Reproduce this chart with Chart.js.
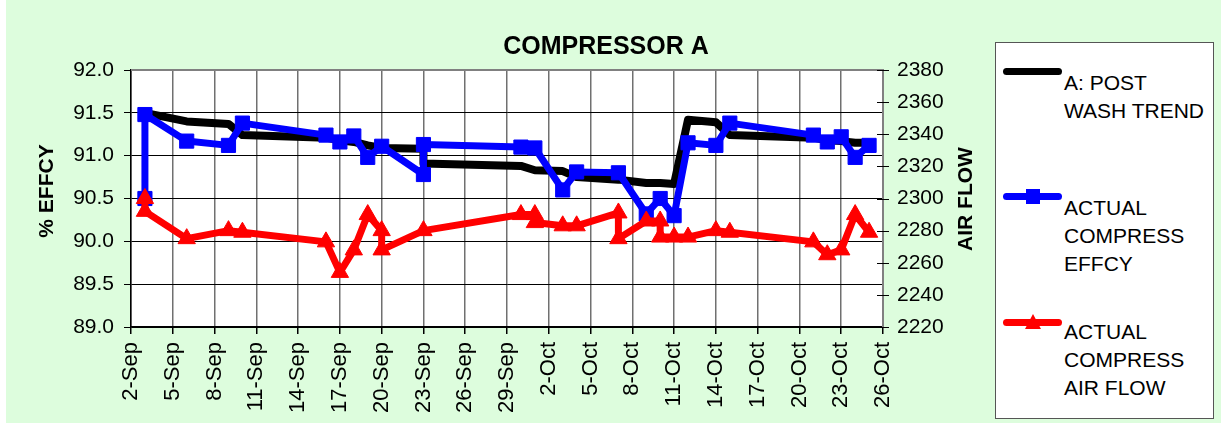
<!DOCTYPE html>
<html>
<head>
<meta charset="utf-8">
<script src="https://cdn.jsdelivr.net/npm/chart.js@4.4.0/dist/chart.umd.min.js"></script>
<style>
    html, body { margin: 0; padding: 0; background: #fff; }
    #wrap { position: relative; width: 1221px; height: 425px; }
    #legend {
        position: absolute; left: 995px; top: 42px; width: 219px; height: 377px;
        box-sizing: border-box; background: #fff; border: 1px solid #555;
        font-family: Arial, "Liberation Sans", sans-serif; font-size: 21px; line-height: 28px; color: #000;
    }
    .swatch { position: absolute; left: 7px; width: 59px; height: 7px; border-radius: 4px; }
    .lbl { position: absolute; left: 68px; white-space: nowrap; }
    .sq { position: absolute; left: 30px; width: 14px; height: 15px; background: #0000ff; }
    .tri { position: absolute; left: 29px; width: 0; height: 0;
           border-left: 8px solid transparent; border-right: 8px solid transparent; border-bottom: 15px solid #ff0000; }
</style>
</head>
<body>
<div id="wrap">
    <canvas id="chart" width="1221" height="425"></canvas>
    <div id="legend">
        <div class="swatch" style="top:25px;background:#000"></div>
        <div class="lbl" style="top:26px">A: POST<br>WASH TREND</div>

        <div class="swatch" style="top:150px;background:#0000ff"></div>
        <div class="sq" style="top:146px"></div>
        <div class="lbl" style="top:151px">ACTUAL<br>COMPRESS<br>EFFCY</div>

        <div class="swatch" style="top:276px;background:#ff0000"></div>
        <div class="tri" style="top:271px"></div>
        <div class="lbl" style="top:275px">ACTUAL<br>COMPRESS<br>AIR FLOW</div>
    </div>
</div>
<script>
// x axis tick labels (every 3 days from 2-Sep)
const tickLabels = ['2-Sep', '5-Sep', '8-Sep', '11-Sep', '14-Sep', '17-Sep', '20-Sep', '23-Sep', '26-Sep',
    '29-Sep', '2-Oct', '5-Oct', '8-Oct', '11-Oct', '14-Oct', '17-Oct', '20-Oct', '23-Oct', '26-Oct'];

// A: post wash trend (% effcy)
const trendDates = ['3-Sep', '6-Sep', '9-Sep', '10-Sep', '16-Sep', '17-Sep', '18-Sep', '19-Sep', '20-Sep', '23-Sep',
    '23-Sep', '30-Sep', '1-Oct', '3-Oct', '4-Oct', '7-Oct', '9-Oct', '10-Oct', '11-Oct', '12-Oct',
    '14-Oct', '15-Oct', '21-Oct', '22-Oct', '23-Oct', '24-Oct', '25-Oct'];
const trendValues = [91.50, 91.40, 91.37, 91.24, 91.21, 91.18, 91.16, 91.12, 91.09, 91.08,
    90.91, 90.88, 90.83, 90.82, 90.75, 90.72, 90.68, 90.68, 90.67, 91.42,
    91.39, 91.24, 91.21, 91.18, 91.17, 91.15, 91.15];

// actual compressor efficiency (% effcy)
const effDates = ['3-Sep', '3-Sep', '6-Sep', '9-Sep', '10-Sep', '16-Sep', '17-Sep', '18-Sep', '19-Sep', '20-Sep',
    '23-Sep', '23-Sep', '30-Sep', '1-Oct', '3-Oct', '4-Oct', '7-Oct', '9-Oct', '10-Oct', '11-Oct',
    '12-Oct', '14-Oct', '15-Oct', '21-Oct', '22-Oct', '23-Oct', '24-Oct', '25-Oct'];
const effValues = [90.50, 91.48, 91.17, 91.12, 91.38, 91.24, 91.16, 91.23, 90.98, 91.11,
    90.78, 91.13, 91.10, 91.09, 90.60, 90.81, 90.80, 90.32, 90.50, 90.30,
    91.15, 91.12, 91.38, 91.24, 91.16, 91.22, 90.98, 91.12];

// actual compressor air flow (right axis)
const flowDates = ['3-Sep', '3-Sep', '6-Sep', '9-Sep', '10-Sep', '16-Sep', '17-Sep', '18-Sep', '19-Sep', '20-Sep',
    '20-Sep', '23-Sep', '30-Sep', '1-Oct', '1-Oct', '3-Oct', '4-Oct', '7-Oct', '7-Oct', '9-Oct',
    '10-Oct', '10-Oct', '11-Oct', '12-Oct', '14-Oct', '15-Oct', '21-Oct', '22-Oct', '23-Oct', '24-Oct', '25-Oct'];
const flowValues = [2300, 2292, 2275, 2280, 2279, 2273, 2254, 2268, 2290, 2280,
    2268, 2280, 2290, 2290, 2285, 2283, 2283, 2291, 2275, 2286,
    2286, 2276, 2276, 2276, 2280, 2279, 2273, 2265, 2268, 2290, 2279];

const FONT = 'Arial, "Liberation Sans", sans-serif';

// days since 2-Sep
function dayNum(s) {
    const [d, m] = s.split('-');
    return m === 'Sep' ? +d - 2 : +d + 28;
}

function points(dates, values) {
    return dates.map((d, i) => ({ x: dayNum(d), y: values[i] }));
}

const decor = {
    id: 'decor',
    beforeDraw(chart) {
        const { ctx, chartArea: a } = chart;
        ctx.save();
        ctx.fillStyle = '#fff';
        ctx.fillRect(0, 0, chart.width, chart.height);
        ctx.fillStyle = '#DDFDDD';
        ctx.fillRect(6, 0, chart.width - 6, 423);
        ctx.fillStyle = '#fff';
        ctx.fillRect(a.left, a.top, a.right - a.left, a.bottom - a.top);
        ctx.restore();
    },
    afterDraw(chart) {
        const { ctx, chartArea: a } = chart;
        ctx.save();
        // top/right frame
        ctx.strokeStyle = '#808080';
        ctx.lineWidth = 2;
        ctx.beginPath();
        ctx.moveTo(a.left, a.top);
        ctx.lineTo(a.right, a.top);
        ctx.lineTo(a.right, a.bottom);
        ctx.stroke();
        // right axis tick marks (cross)
        const y2 = chart.scales.y2;
        ctx.strokeStyle = '#000';
        ctx.lineWidth = 1;
        y2.ticks.forEach(t => {
            const y = Math.round(y2.getPixelForValue(t.value)) + 0.5;
            ctx.beginPath();
            ctx.moveTo(a.right - 6, y);
            ctx.lineTo(a.right + 6, y);
            ctx.stroke();
        });

        ctx.fillStyle = '#000';
        ctx.textAlign = 'center';
        ctx.textBaseline = 'middle';
        ctx.font = 'bold 25px ' + FONT;
        ctx.fillText('COMPRESSOR A', 606, 47);

        ctx.font = 'bold 21px ' + FONT;
        ctx.translate(47, 191);
        ctx.rotate(-Math.PI / 2);
        ctx.fillText('% EFFCY', 0, 0);
        ctx.setTransform(1, 0, 0, 1, 0, 0);
        ctx.translate(966, 199);
        ctx.rotate(-Math.PI / 2);
        ctx.fillText('AIR FLOW', 0, 0);
        ctx.restore();
    }
};

new Chart(document.getElementById('chart'), {
    type: 'line',
    data: {
        datasets: [
            {
                label: 'A: POST WASH TREND',
                data: points(trendDates, trendValues),
                yAxisID: 'y',
                borderColor: '#000',
                borderWidth: 8,
                pointRadius: 0,
                borderJoinStyle: 'round',
                borderCapStyle: 'round',
                order: 3
            },
            {
                label: 'ACTUAL COMPRESS EFFCY',
                data: points(effDates, effValues),
                yAxisID: 'y',
                borderColor: '#0000ff',
                backgroundColor: '#0000ff',
                borderWidth: 7,
                pointStyle: 'rect',
                pointRadius: 10,
                pointBorderWidth: 1,
                borderJoinStyle: 'round',
                order: 2
            },
            {
                label: 'ACTUAL COMPRESS AIR FLOW',
                data: points(flowDates, flowValues),
                yAxisID: 'y2',
                borderColor: '#ff0000',
                backgroundColor: '#ff0000',
                borderWidth: 7,
                pointStyle: 'triangle',
                pointRadius: 10,
                pointBorderWidth: 1,
                borderJoinStyle: 'round',
                order: 1
            }
        ]
    },
    options: {
        responsive: false,
        animation: false,
        layout: { padding: { top: 70, left: 0, right: 0, bottom: 0 } },
        plugins: { legend: { display: false }, tooltip: { enabled: false }, title: { display: false } },
        scales: {
            x: {
                type: 'linear',
                min: 0,
                max: 54,
                afterBuildTicks: (scale) => {
                    scale.ticks = tickLabels.map((_, i) => ({ value: i * 3 }));
                },
                afterFit: (scale) => { scale.height = 98; },
                ticks: {
                    autoSkip: false,
                    minRotation: 90,
                    maxRotation: 90,
                    padding: 8,
                    color: '#000',
                    font: { family: FONT, size: 22 },
                    callback: (v) => tickLabels[Math.round(v / 3)]
                },
                grid: { color: '#707070', lineWidth: 1.5, tickLength: 7, tickColor: '#000' },
                border: { color: '#000', width: 1.5 }
            },
            y: {
                position: 'left',
                min: 89,
                max: 92,
                afterFit: (scale) => { scale.width = 131; },
                ticks: {
                    stepSize: 0.5,
                    padding: 10,
                    color: '#000',
                    font: { family: FONT, size: 21 },
                    callback: (v) => v.toFixed(1)
                },
                grid: { color: '#000', lineWidth: 1, tickLength: 7 },
                border: { color: '#000', width: 1.5 }
            },
            y2: {
                position: 'right',
                min: 2220,
                max: 2380,
                afterFit: (scale) => { scale.width = 338; },
                ticks: {
                    stepSize: 20,
                    padding: 14,
                    color: '#000',
                    font: { family: FONT, size: 21 },
                    callback: (v) => String(v)
                },
                grid: { display: false, drawTicks: false },
                border: { display: true, color: '#808080', width: 2 }
            }
        }
    },
    plugins: [decor]
});
</script>
</body>
</html>
